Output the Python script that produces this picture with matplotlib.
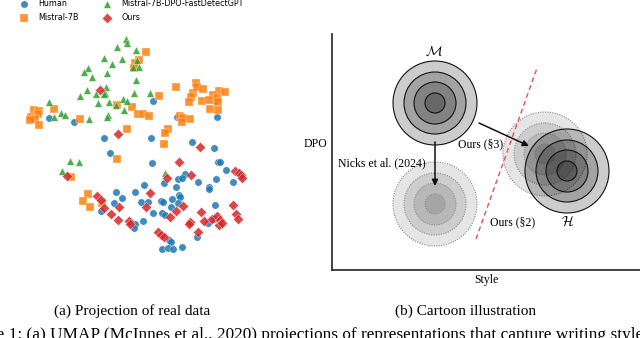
import matplotlib
matplotlib.use("Agg")
import matplotlib.pyplot as plt
from matplotlib.patches import Circle

plt.rcParams['mathtext.fontset'] = 'cm'

# UMAP projection points (image-like coords: y grows downward)
human_x = [153, 215, 217, 177, 49, 74, 104, 151, 192, 214, 110, 152, 218, 220, 226, 185, 178, 182,
           164, 198, 216, 233, 209, 209, 144, 176, 116, 135, 179, 180, 122, 161, 163, 141, 148, 172,
           178, 114, 171, 215, 101, 153, 162, 165, 143, 135, 134, 208, 214, 197, 169, 171, 162, 168,
           173, 182]
human_y = [101, 101, 117, 117, 118, 122, 138, 138, 142, 148, 153, 163, 162, 162, 170, 174, 179, 178,
           183, 182, 179, 182, 187, 189, 185, 187, 192, 192, 195, 197, 198, 201, 202, 202, 202, 199,
           203, 203, 207, 205, 211, 213, 213, 215, 221, 224, 228, 223, 219, 237, 240, 242, 249, 248,
           249, 247]

mistral_x = [146, 139, 135, 134, 176, 196, 193, 197, 203, 191, 219, 225, 213, 217, 159, 189, 202,
             209, 218, 210, 218, 54, 34, 39, 38, 31, 35, 30, 39, 80, 117, 132, 138, 143, 149, 180,
             183, 190, 182, 127, 168, 165, 164, 117, 71, 88, 83, 90, 102]
mistral_y = [52, 60, 63, 68, 87, 83, 93, 87, 89, 97, 91, 92, 95, 98, 96, 102, 101, 100, 102, 109,
             110, 109, 110, 111, 114, 117, 119, 120, 125, 119, 105, 107, 114, 114, 116, 116, 118,
             119, 122, 129, 129, 133, 144, 159, 177, 194, 201, 207, 203]

dpo_x = [126, 127, 117, 136, 104, 122, 137, 112, 133, 139, 88, 84, 107, 92, 136, 106, 87, 105, 96,
         104, 80, 134, 150, 49, 98, 109, 123, 127, 116, 61, 65, 54, 108, 107, 124, 89, 70, 79, 62,
         165]
dpo_y = [39, 43, 47, 50, 58, 59, 60, 64, 67, 67, 68, 72, 73, 77, 80, 87, 90, 93, 94, 94, 96, 93,
         93, 102, 103, 102, 99, 101, 105, 113, 115, 117, 115, 117, 110, 119, 161, 162, 171, 173]

ours_x = [100, 118, 200, 179, 67, 167, 191, 235, 239, 241, 242, 150, 97, 101, 104, 119, 146, 183,
          111, 176, 201, 233, 236, 238, 118, 129, 130, 170, 190, 189, 204, 212, 217, 220, 219, 222,
          198, 158, 161, 164]
ours_y = [90, 134, 147, 162, 176, 178, 175, 171, 173, 175, 178, 193, 196, 200, 208, 207, 207, 206,
          214, 211, 212, 205, 214, 219, 220, 221, 224, 217, 222, 224, 221, 219, 216, 220, 225, 223,
          232, 232, 235, 237]

# cartoon: centres and ring radii (same pixel-like units)
ring_radii = [42, 31, 21, 10]
m_center = (435, 103)
nicks_center = (435, 204)
ours3_center = (545, 154)
h_center = (567, 171)

fig = plt.figure(figsize=(6.4, 3.38), dpi=100)

# ---- (a) scatter + captions, drawn on a full-figure canvas axes
ax = fig.add_axes([0, 0, 1, 1])
ax.set_xlim(0, 640)
ax.set_ylim(338, 0)
ax.axis('off')

kw = dict(alpha=0.85, edgecolors='white', linewidths=0.3, zorder=3)
ax.scatter(human_x, human_y, s=28, marker='o', color='#1f77b4', label='Human', **kw)
ax.scatter(mistral_x, mistral_y, s=28, marker='s', color='#ff7f0e', label='Mistral-7B', **kw)
ax.scatter(dpo_x, dpo_y, s=30, marker='^', color='#2ca02c', label='Mistral-7B-DPO-FastDetectGPT', **kw)
ax.scatter(ours_x, ours_y, s=28, marker='D', color='#d62728', label='Ours', **kw)

ax.legend(ncol=2, frameon=False, fontsize=5.8, loc='upper left',
          bbox_to_anchor=(16 / 640, 1.002), handlelength=2.0,
          handletextpad=0.8, columnspacing=2.5, labelspacing=0.55, borderpad=0,
          borderaxespad=0)

serif = 'Liberation Serif'
ax.text(132, 311, '(a) Projection of real data', family=serif, fontsize=11, ha='center', va='center')
ax.text(466, 311, '(b) Cartoon illustration', family=serif, fontsize=11, ha='center', va='center')
ax.text(-41, 335, 'Figure 1: (a) UMAP (McInnes et al., 2020) projections of representations that capture writing style',
        family=serif, fontsize=12.4, ha='left', va='center')

# ---- (b) cartoon
ax2 = fig.add_axes([332 / 640, (338 - 270) / 338, 308 / 640, (270 - 34) / 338])
ax2.set_xlim(332, 640)
ax2.set_ylim(270, 34)
ax2.set_xticks([])
ax2.set_yticks([])
for side in ['top', 'right']:
    ax2.spines[side].set_visible(False)
for side in ['left', 'bottom']:
    ax2.spines[side].set_linewidth(1.2)
    ax2.spines[side].set_color('#222222')
ax2.set_xlabel('Style', family=serif, fontsize=8.5, labelpad=3)
ax2.set_ylabel('DPO', family=serif, fontsize=8.5, rotation=0, ha='right', va='center')
ax2.yaxis.set_label_coords(-0.015, (270 - 144) / 236)


def rings(center, dotted):
    for r in ring_radii:
        if dotted:
            ax2.add_patch(Circle(center, r, facecolor='black', alpha=0.1, lw=0, zorder=2))
            ax2.add_patch(Circle(center, r, fill=False, edgecolor='#8c8c8c', lw=0.8,
                                 linestyle=(0, (1, 1.2)), zorder=2.5))
        else:
            ax2.add_patch(Circle(center, r, facecolor='black', alpha=0.2, lw=0, zorder=3))
            ax2.add_patch(Circle(center, r, fill=False, edgecolor='#111111', lw=0.8, zorder=3.5))


rings(nicks_center, True)
rings(ours3_center, True)
rings(m_center, False)
rings(h_center, False)

ax2.plot([476, 537], [239, 68], color='#f05050', lw=1, ls=(0, (3.5, 2.5)), zorder=4)

arrow = dict(arrowstyle='-|>', color='#111111', lw=1.1, mutation_scale=9, shrinkA=0, shrinkB=0)
ax2.annotate('', xy=(435, 186), xytext=(435, 142), arrowprops=arrow, zorder=5)
ax2.annotate('', xy=(529, 146), xytext=(479, 123), arrowprops=arrow, zorder=5)

ax2.text(434, 52, r'$\mathcal{M}$', fontsize=10, ha='center', va='center')
ax2.text(568, 222, r'$\mathcal{H}$', fontsize=10, ha='center', va='center')
ax2.text(382, 163, 'Nicks et al. (2024)', family=serif, fontsize=8.5, ha='center', va='center', zorder=6)
ax2.text(481, 144, 'Ours (§3)', family=serif, fontsize=8.5, ha='center', va='center', zorder=6)
ax2.text(513, 222, 'Ours (§2)', family=serif, fontsize=8.5, ha='center', va='center', zorder=6)

fig.savefig('out.png', dpi=100)
